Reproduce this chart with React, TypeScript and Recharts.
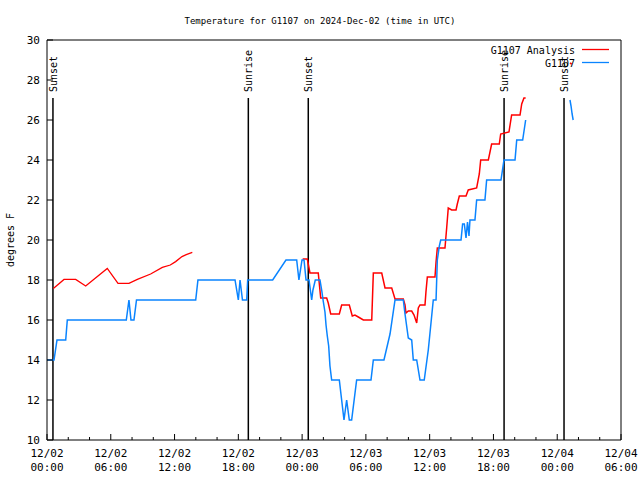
import { LineChart, Line, XAxis, YAxis, ReferenceLine } from 'recharts';

// hours since 2024-12-02 00:00 UTC
const hourTicks = [0, 2, 4, 6, 8, 10, 12, 14, 16, 18, 20, 22, 24, 26, 28, 30, 32, 34, 36, 38, 40, 42, 44, 46, 48, 50, 52, 54];
const tickDates = ['12/02', '12/02', '12/02', '12/02', '12/03', '12/03', '12/03', '12/03', '12/04', '12/04'];
const tickTimes = ['00:00', '06:00', '12:00', '18:00', '00:00', '06:00', '12:00', '18:00', '00:00', '06:00'];
const tempTicks = [10, 12, 14, 16, 18, 20, 22, 24, 26, 28, 30];

const sunHours = [0.56, 18.94, 24.58, 43.0, 48.64];
const sunLabels = ['Sunset', 'Sunrise', 'Sunset', 'Sunrise', 'Sunset'];

// G1107 Analysis (red), three pieces
const analysisHours1 = [0.6, 1.6, 2.7, 3.64, 5.67, 6.68, 7.71, 8.5, 9.75, 10.85, 11.6, 12.1, 12.7, 13.1, 13.67];
const analysisTemps1 = [17.58, 18.03, 18.03, 17.7, 18.58, 17.83, 17.83, 18.03, 18.3, 18.63, 18.75, 18.92, 19.17, 19.27, 19.38];

const analysisHours2 = [
  24.05, 24.49, 24.74, 25.52, 25.75, 26.31, 26.46, 26.69, 27.5, 27.72, 28.44, 28.72, 28.97, 29.29, 29.76,
  30.55, 30.7, 31.49, 31.8, 32.43, 32.74, 33.52, 33.68, 33.77, 33.99, 34.31, 34.53, 34.78, 34.93, 35.09,
  35.56, 35.65, 35.78, 36.5, 36.6, 36.72, 37.44, 37.6, 37.75, 38.07, 38.48, 38.6, 38.79, 39.42, 39.63,
  40.42, 40.67, 40.8, 41.52, 41.83, 42.55, 42.68, 43.46, 43.71, 44.5, 44.66, 44.87, 45.03,
];
const analysisTemps2 = [
  19.05, 19.05, 18.35, 18.35, 17.1, 17.1, 16.85, 16.3, 16.3, 16.75, 16.75, 16.2, 16.25, 16.15, 16.0,
  16.0, 18.35, 18.35, 17.6, 17.6, 17.05, 17.05, 16.75, 16.35, 16.45, 16.45, 16.25, 15.85, 16.6, 16.75,
  16.75, 17.4, 18.15, 18.15, 18.9, 19.6, 19.6, 20.6, 21.6, 21.5, 21.5, 21.8, 22.2, 22.2, 22.5,
  22.6, 23.3, 24.0, 24.0, 24.8, 24.8, 25.3, 25.4, 26.25, 26.25, 26.8, 27.1, 27.1,
];

const analysisHours3 = [49.2, 49.36];
const analysisTemps3 = [28.85, 28.8];

// G1107 observations (blue), two pieces
const obsHours1 = [
  0.0, 0.66, 0.94, 1.76, 1.91, 7.46, 7.71, 7.9, 8.18, 8.42, 13.99, 14.2, 17.69, 18.0, 18.16,
  18.39, 18.79, 18.88, 21.23, 22.48, 23.49, 23.7, 23.99, 24.18, 24.37, 24.65, 24.9, 25.02, 25.24, 25.68,
  25.84, 26.0, 26.15, 26.25, 26.37, 26.5, 26.62, 26.78, 27.5, 27.72, 27.94, 28.19, 28.44, 28.66, 29.13,
  30.48, 30.7, 31.7, 32.27, 32.74, 33.52, 33.68, 33.99, 34.31, 34.46, 34.78, 35.09, 35.49, 35.87, 36.19,
  36.34, 36.6, 36.72, 36.91, 37.04, 38.95, 39.1, 39.26, 39.42, 39.56, 39.7, 39.79, 40.26, 40.42, 41.2,
  41.36, 42.71, 42.99, 44.03, 44.19, 44.75, 45.03,
];
const obsTemps1 = [
  14, 14, 15, 15, 16, 16, 17, 16, 16, 17, 17, 18, 18, 17, 18,
  17, 17, 18, 18, 19, 19, 18, 19, 19, 18, 18, 17, 17.5, 18, 18,
  17.5, 16.9, 16.4, 15.75, 15.2, 14.7, 13.7, 13, 13, 12, 11, 12, 11, 11, 13,
  13, 14, 14, 15.3, 17, 17, 16.3, 15.1, 15, 14, 14, 13, 13, 14.5, 16.2,
  17, 17, 19, 19.7, 20, 20, 20.8, 20.8, 20.1, 20.9, 20.2, 21, 21, 22, 22,
  23, 23, 24, 24, 25, 25, 26,
];

const obsHours2 = [49.2, 49.3, 49.4, 49.5];
const obsTemps2 = [27.0, 26.7, 26.3, 26.0];

const toPoints = (hours: number[], temps: number[]) => hours.map((hour, i) => ({ hour, temp: temps[i] }));

const RED = '#ff0000';
const BLUE = '#0a84ff';
const FONT = '"DejaVu Sans Mono", "Liberation Mono", monospace';

const BottomTick = (props: any) => {
  const { x, y, payload } = props;
  const h = payload.value;
  const major = h % 6 === 0;
  const i = h / 6;
  return (
    <g>
      <line x1={x} y1={y} x2={x} y2={y - (major ? 6 : 3)} stroke="#000" />
      {major && (
        <text x={x} y={y + 17} textAnchor="middle" fontSize={11} fontFamily={FONT} fill="#000">
          <tspan x={x}>{tickDates[i]}</tspan>
          <tspan x={x} dy={14}>{tickTimes[i]}</tspan>
        </text>
      )}
    </g>
  );
};

const TopTick = (props: any) => {
  const { x, y, payload } = props;
  const major = payload.value % 6 === 0;
  return <line x1={x} y1={y} x2={x} y2={y + (major ? 6 : 3)} stroke="#000" />;
};

const LeftTick = (props: any) => {
  const { x, y, payload } = props;
  return (
    <g>
      <line x1={x} y1={y} x2={x + 6} y2={y} stroke="#000" />
      <text x={x - 7} y={y + 4} textAnchor="end" fontSize={11} fontFamily={FONT} fill="#000">
        {payload.value}
      </text>
    </g>
  );
};

const RightTick = (props: any) => {
  const { x, y } = props;
  return <line x1={x} y1={y} x2={x - 6} y2={y} stroke="#000" />;
};

const sunLabel = (text: string) => (p: any) => {
  const vb = p.viewBox;
  const x = vb.x + 4;
  const y = vb.y - 6;
  return (
    <text x={x} y={y} transform={`rotate(-90, ${x}, ${y})`} textAnchor="start" fontSize={10} fontFamily={FONT} fill="#000">
      {text}
    </text>
  );
};

export default function App() {
  return (
    <div style={{ position: 'absolute', left: 0, top: 0, width: 640, height: 480, background: '#fff' }}>
      <LineChart width={640} height={480} margin={{ top: 39, right: 18, bottom: 39, left: 46 }}>
        <XAxis
          xAxisId="bottom"
          type="number"
          dataKey="hour"
          domain={[0, 54]}
          ticks={hourTicks}
          interval={0}
          height={1}
          tickSize={0}
          tickMargin={0}
          tickLine={false}
          axisLine={{ stroke: '#000' }}
          tick={<BottomTick />}
          allowDataOverflow
        />
        <XAxis
          xAxisId="top"
          orientation="top"
          type="number"
          dataKey="hour"
          domain={[0, 54]}
          ticks={hourTicks}
          interval={0}
          height={1}
          tickSize={0}
          tickMargin={0}
          tickLine={false}
          axisLine={{ stroke: '#000' }}
          tick={<TopTick />}
        />
        <YAxis
          yAxisId="left"
          type="number"
          domain={[10, 30]}
          ticks={tempTicks}
          interval={0}
          width={1}
          tickSize={0}
          tickMargin={0}
          tickLine={false}
          axisLine={{ stroke: '#000' }}
          tick={<LeftTick />}
          allowDataOverflow
        />
        <YAxis
          yAxisId="right"
          orientation="right"
          type="number"
          domain={[10, 30]}
          ticks={tempTicks}
          interval={0}
          width={1}
          tickSize={0}
          tickMargin={0}
          tickLine={false}
          axisLine={{ stroke: '#000' }}
          tick={<RightTick />}
        />
        {sunHours.map((h, i) => (
          <ReferenceLine
            key={`sun-${i}`}
            xAxisId="bottom"
            yAxisId="left"
            segment={[{ x: h, y: 27.1 }, { x: h, y: 10 }]}
            stroke="#000"
            strokeWidth={1.5}
            label={sunLabel(sunLabels[i])}
          />
        ))}
        <Line xAxisId="bottom" yAxisId="left" data={toPoints(analysisHours1, analysisTemps1)} dataKey="temp" stroke={RED} strokeWidth={1.3} dot={false} isAnimationActive={false} />
        <Line xAxisId="bottom" yAxisId="left" data={toPoints(analysisHours2, analysisTemps2)} dataKey="temp" stroke={RED} strokeWidth={1.5} dot={false} isAnimationActive={false} />
        <Line xAxisId="bottom" yAxisId="left" data={toPoints(analysisHours3, analysisTemps3)} dataKey="temp" stroke={RED} strokeWidth={1.5} dot={false} isAnimationActive={false} />
        <Line xAxisId="bottom" yAxisId="left" data={toPoints(obsHours1, obsTemps1)} dataKey="temp" stroke={BLUE} strokeWidth={1.5} dot={false} isAnimationActive={false} />
        <Line xAxisId="bottom" yAxisId="left" data={toPoints(obsHours2, obsTemps2)} dataKey="temp" stroke={BLUE} strokeWidth={1.5} dot={false} isAnimationActive={false} />
      </LineChart>
      <svg width={640} height={480} style={{ position: 'absolute', left: 0, top: 0, pointerEvents: 'none' }}>
        <text x={320} y={24} textAnchor="middle" fontSize={9} fontFamily={FONT} fill="#000">
          Temperature for G1107 on 2024-Dec-02 (time in UTC)
        </text>
        <text x={14} y={240} transform="rotate(-90, 14, 240)" textAnchor="middle" fontSize={10} fontFamily={FONT} fill="#000">
          degrees F
        </text>
        <text x={575} y={54} textAnchor="end" fontSize={10} fontFamily={FONT} fill="#000">G1107 Analysis</text>
        <line x1={582} y1={49.5} x2={609} y2={49.5} stroke={RED} strokeWidth={1.3} />
        <text x={575} y={67} textAnchor="end" fontSize={10} fontFamily={FONT} fill="#000">G1107</text>
        <line x1={582} y1={62.5} x2={609} y2={62.5} stroke={BLUE} strokeWidth={1.3} />
      </svg>
    </div>
  );
}
